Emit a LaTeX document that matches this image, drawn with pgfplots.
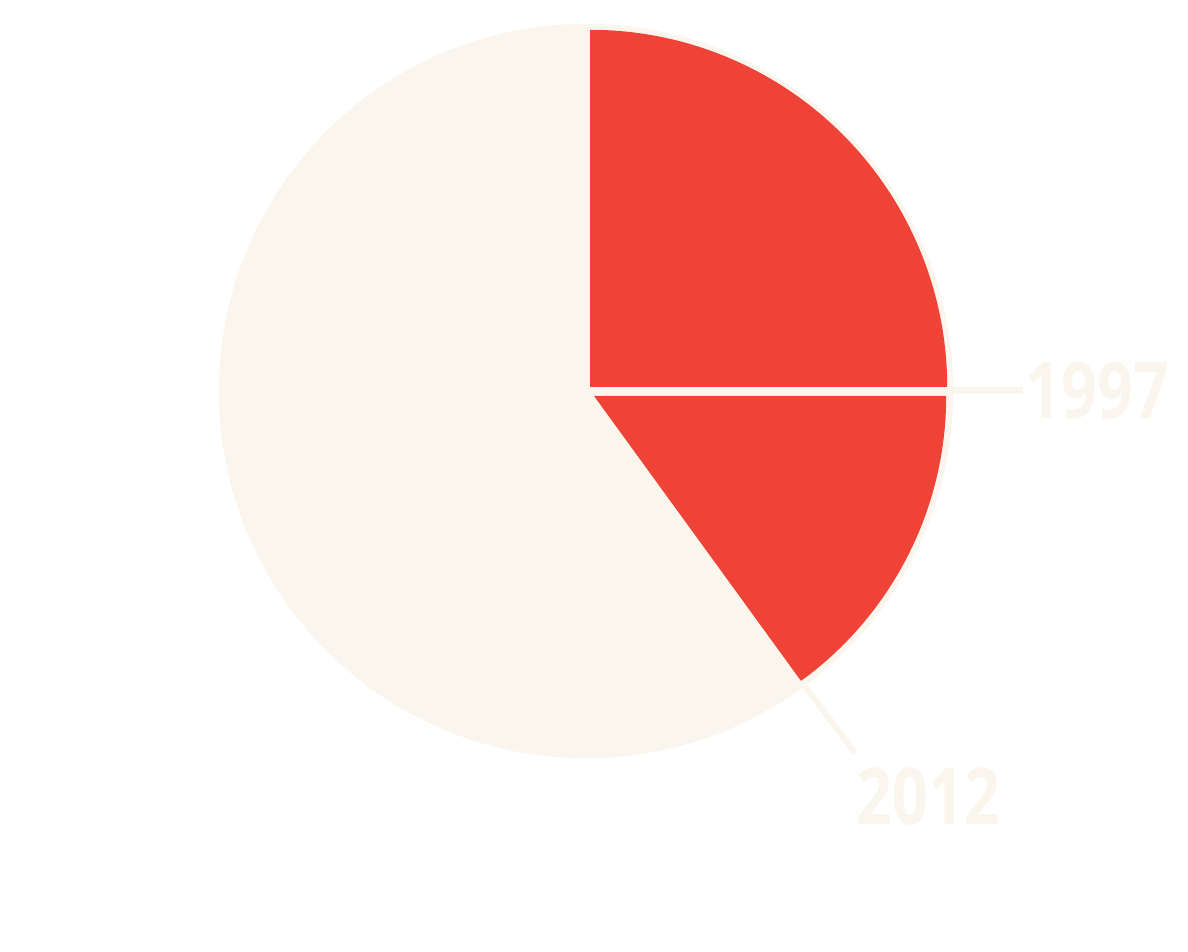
\documentclass[border=0pt]{standalone}
\usepackage{pgfplots}
\pgfplotsset{compat=1.18}
\usepackage{pgfplotstable}
\usepackage{fontspec}
\newfontfamily\labfont{Open Sans}[FakeStretch=0.8]
\definecolor{cream}{HTML}{FAF6EE}
\definecolor{pred}{HTML}{EF4338}

% share of the pie (percent)
\pgfplotstableread{
year share
1997 25
2012 15
}\piedata

\begin{document}
\begin{tikzpicture}
\pgfplotstablegetelem{0}{share}\of\piedata \let\sA\pgfplotsretval
\pgfplotstablegetelem{1}{share}\of\piedata \let\sB\pgfplotsretval
\pgfmathsetmacro\aA{90-3.6*\sA}
\pgfmathsetmacro\aB{-3.6*\sB}
\begin{axis}[x=0.01cm,y=0.01cm,xmin=0,xmax=1188,ymin=0,ymax=952,
  hide axis, clip=false, disabledatascaling]
\path (axis cs:0,0) rectangle (axis cs:1188,952);
\fill[cream] (axis cs:586,561) circle[radius=3.67cm];
\fill[pred] (axis cs:590,565) -- ++(90:3.57cm) arc[start angle=90, end angle=\aA, radius=3.57cm] -- cycle;
\fill[pred] (axis cs:594,556) -- ++(0:3.52cm) arc[start angle=0, end angle=\aB, radius=3.52cm] -- cycle;
\draw[cream, line width=0.07cm] (axis cs:945,561) -- (axis cs:1023,561);
\draw[cream, line width=0.06cm] (axis cs:801,271) -- (axis cs:855,199);
\node[anchor=base west, inner sep=0pt, text=cream, font=\labfont\bfseries\fontsize{22.3}{26}\selectfont] at (axis cs:1025,533) {1997};
\node[anchor=base west, inner sep=0pt, text=cream, font=\labfont\bfseries\fontsize{22.3}{26}\selectfont] at (axis cs:856,127) {2012};
\end{axis}
\end{tikzpicture}
\end{document}
